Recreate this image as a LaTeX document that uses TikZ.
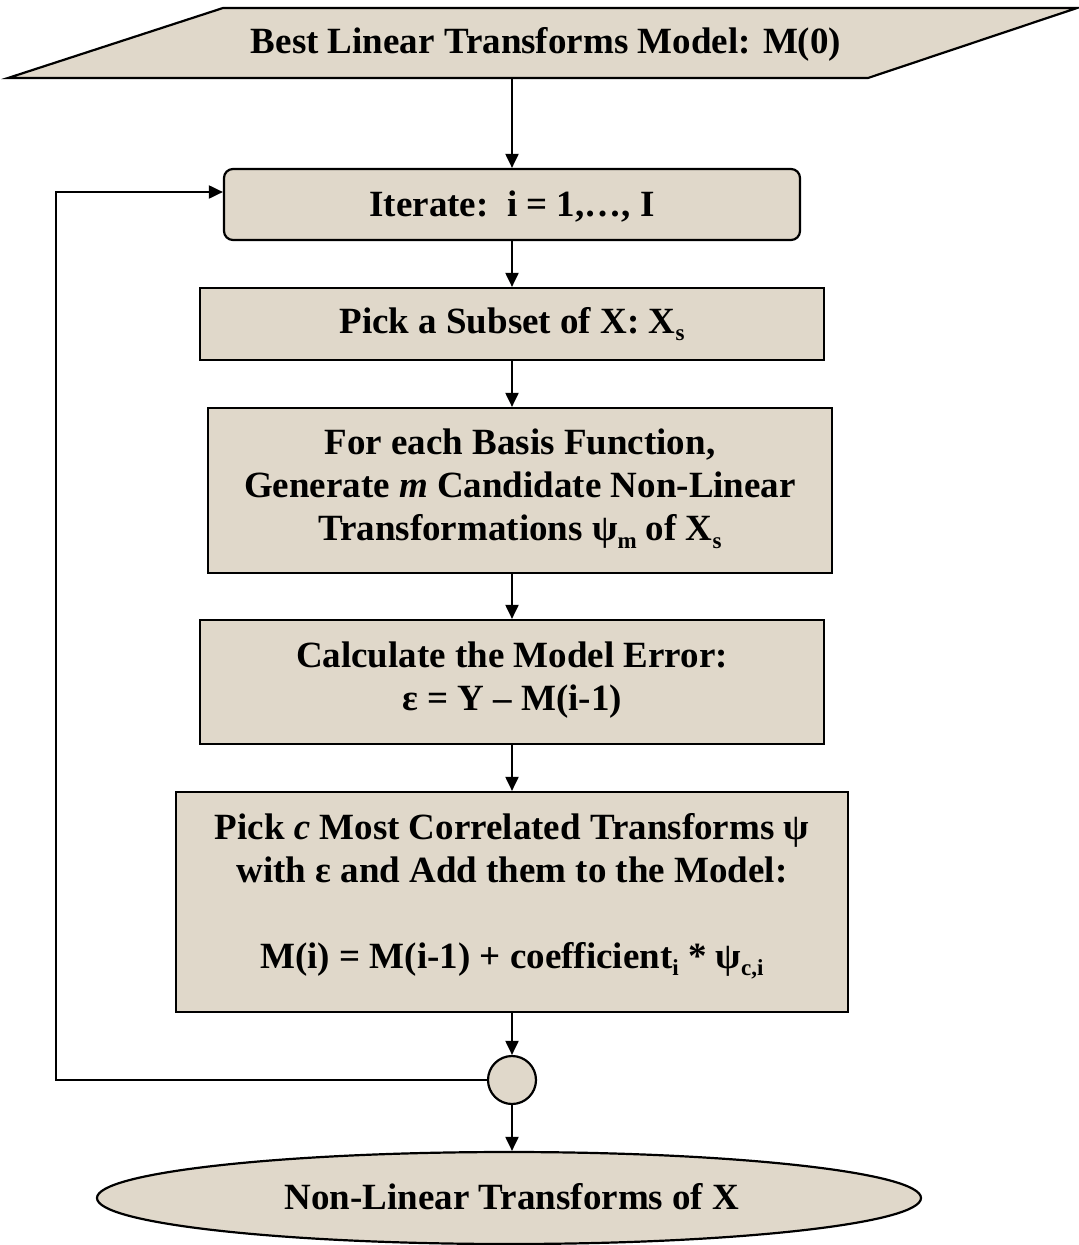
\documentclass[tikz,border=0pt]{standalone}
\usepackage{fontspec}
\setmainfont{Liberation Serif}
\usetikzlibrary{shapes.geometric,arrows.meta}
\definecolor{parch}{RGB}{224,216,202}
\newcommand\subs[1]{\raisebox{-0.2em}{\fontsize{23}{23}\selectfont #1}}
\begin{document}
\begin{tikzpicture}[x=1pt,y=-1pt,
  box/.style={draw=black,line width=2.2pt,fill=parch,inner sep=0pt},
  txt/.style={font=\bfseries\fontsize{37}{43}\selectfont,align=center,inner sep=0pt,text=black},
  arr/.style={line width=2pt,-{Triangle[length=14pt,width=13pt]}}]
\useasboundingbox (0,0) rectangle (1079,1245);
% input parallelogram
\draw[box,line join=miter] (8,78) -- (223,8) -- (1077,8) -- (868,78) -- cycle;
\node[txt] (m0) at (546,44) {Best Linear Transforms Model: M(0)};
\coordinate (m0b) at (512,78);
% iterate
\node[box,rounded corners=9pt,minimum width=576pt,minimum height=71pt] (iter) at (512,204.5) {};
\node[txt] (itert) at (512,207) {Iterate:\ \ i = 1,…, I};
% subset
\node[box,minimum width=624pt,minimum height=72pt] (subset) at (512,324) {};
\node[txt] (subsett) at (512,324) {Pick a Subset of X: X\subs{s}};
% generate
\node[box,minimum width=624pt,minimum height=165pt] (gen) at (520,490.5) {};
\node[txt] (gent) at (520,489) {For each Basis Function,\\Generate \textit{m} Candidate Non-Linear\\Transformations ψ\subs{m} of X\subs{s}};
% error
\node[box,minimum width=624pt,minimum height=124pt] (err) at (512,682) {};
\node[txt] (errt) at (512,680) {Calculate the Model Error:\\ε = Y – M(i-1)};
% pick c
\node[box,minimum width=672pt,minimum height=220pt] (pick) at (512,902) {};
\node[txt] (pickt) at (512,896) {Pick \textit{c} Most Correlated Transforms ψ\\with ε and Add them to the Model:\\[43pt]M(i) = M(i-1) + coefficient\subs{i} * ψ\subs{c,i}};
% junction
\node[box,circle,minimum size=48pt] (junc) at (512,1080) {};
% output
\node[box,ellipse,minimum width=824pt,minimum height=92pt] (out) at (509,1198) {};
\node[txt] (outt) at (512,1197) {Non-Linear Transforms of X};
% connectors
\draw[arr] (m0b) -- (iter.north);
\draw[arr] (iter.south) -- (subset.north);
\draw[arr] (subset.south) -- (subset.south |- gen.north);
\draw[arr] (gen.south -| subset.south) -- (err.north);
\draw[arr] (err.south) -- (pick.north);
\draw[arr] (pick.south) -- (junc.north);
\draw[arr] (junc.south) -- (junc.south |- out.north);
\draw[arr] (junc.west) -- (56,1080) |- ([yshift=12.5pt]iter.west);
\end{tikzpicture}
\end{document}
